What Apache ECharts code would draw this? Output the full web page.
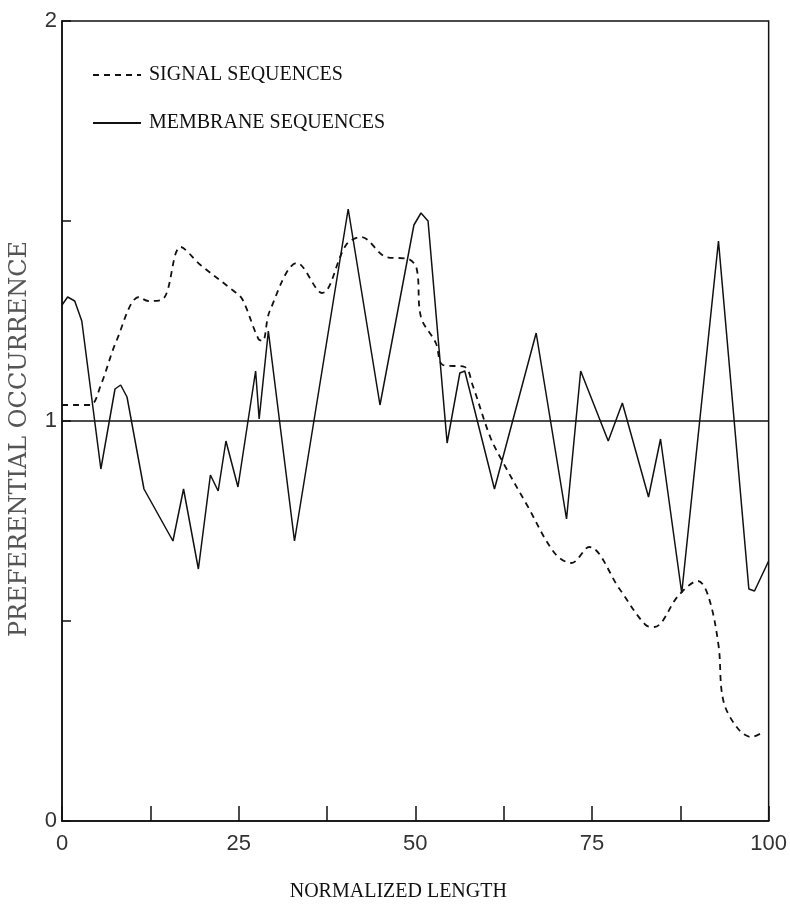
<!DOCTYPE html>
<html>
<head>
<meta charset="utf-8">
<script src="https://cdn.jsdelivr.net/npm/echarts@6/dist/echarts.min.js"></script>
<style>html,body{margin:0;padding:0;background:#fff;overflow:hidden}#c{width:790px;height:913px}</style>
</head>
<body>
<div id="c"></div>
<script>
// Normalized length (x) and preferential occurrence (y)
var signalX = [0, 2, 4, 5.5, 7.7, 10.9, 12.2, 14.3, 16.8, 19.6, 24.3, 25.5, 27.8, 28.4, 29.4, 33.3, 36.8, 40.2, 42.3, 45.9, 49, 50.2, 50.8, 52.9, 53.9, 57, 58.1, 60.6, 62.3, 65.8, 69.7, 72.1, 74.6, 78.9, 82.6, 83.8, 87.3, 90, 91.5, 92.9, 93.6, 95.7, 97.6, 99];
var signalY = [1.04, 1.04, 1.04, 1.09, 1.2, 1.31, 1.30, 1.305, 1.435, 1.39, 1.325, 1.305, 1.205, 1.2, 1.275, 1.395, 1.32, 1.44, 1.46, 1.41, 1.405, 1.38, 1.26, 1.195, 1.14, 1.135, 1.09, 0.96, 0.9, 0.79, 0.67, 0.645, 0.685, 0.58, 0.49, 0.485, 0.565, 0.6, 0.56, 0.44, 0.3, 0.23, 0.21, 0.22];

var membraneX = [0, 0.8, 1.8, 2.8, 5.5, 7.5, 8.3, 9.2, 11.6, 15.7, 17.2, 19.3, 21, 22.1, 23.2, 24.9, 27.4, 27.9, 29.2, 32.9, 40.5, 45, 49.8, 50.8, 51.8, 54.5, 56.3, 57, 61.2, 67.1, 71.4, 73.4, 77.3, 79.3, 83, 84.7, 87.7, 92.9, 97.2, 98, 100];
var membraneY = [1.29, 1.31, 1.30, 1.25, 0.88, 1.08, 1.09, 1.06, 0.83, 0.70, 0.83, 0.63, 0.865, 0.825, 0.95, 0.835, 1.125, 1.005, 1.225, 0.70, 1.53, 1.04, 1.49, 1.52, 1.50, 0.945, 1.12, 1.125, 0.83, 1.22, 0.755, 1.125, 0.95, 1.045, 0.81, 0.955, 0.57, 1.45, 0.58, 0.575, 0.65];

var xTickLabels = [0, 25, 50, 75, 100];
var yTickLabels = [0, 1, 2];
var referenceLevel = 1;

function pairs(xs, ys) { return xs.map(function (x, i) { return [x, ys[i]]; }); }

var chart = echarts.init(document.getElementById('c'));
chart.setOption({
  animation: false,
  backgroundColor: '#fff',
  grid: { left: 60, right: 15, top: 21, bottom: 92, show: true, borderColor: '#111', borderWidth: 1.5, backgroundColor: 'transparent' },
  legend: {
    orient: 'vertical', left: 87, top: 60, itemWidth: 48, itemHeight: 22, itemGap: 28,
    itemStyle: { opacity: 0 },
    textStyle: { fontFamily: 'Liberation Serif', fontSize: 20, color: '#111', padding: [0, 0, 0, 3] },
    data: ['SIGNAL SEQUENCES', 'MEMBRANE SEQUENCES']
  },
  xAxis: {
    type: 'value', min: 0, max: 100, interval: 12.5,
    name: 'NORMALIZED LENGTH', nameLocation: 'middle', nameGap: 61,
    nameTextStyle: { fontFamily: 'Liberation Serif', fontSize: 20, color: '#111', padding: [0, 34, 0, 0] },
    axisLine: { lineStyle: { color: '#111', width: 1.5 } },
    axisTick: { inside: true, length: 15, lineStyle: { color: '#111', width: 1.5 } },
    axisLabel: {
      margin: 12, fontFamily: 'Liberation Sans', fontSize: 22, color: '#333',
      formatter: function (v) { return xTickLabels.indexOf(v) >= 0 ? String(v) : ''; }
    },
    splitLine: { show: false }
  },
  yAxis: {
    type: 'value', min: 0, max: 2, interval: 0.5,
    name: 'PREFERENTIAL OCCURRENCE', nameLocation: 'middle', nameGap: 30,
    nameTextStyle: { fontFamily: 'DejaVu Serif', fontSize: 24, color: '#555', padding: [0, 36, 0, 0] },
    axisLine: { lineStyle: { color: '#111', width: 1.5 } },
    axisTick: { inside: true, length: 9, lineStyle: { color: '#111', width: 1.5 } },
    axisLabel: {
      margin: 5, fontFamily: 'Liberation Sans', fontSize: 22, color: '#333',
      formatter: function (v) { return yTickLabels.indexOf(v) >= 0 ? String(v) : ''; }
    },
    splitLine: { show: false }
  },
  series: [
    {
      name: 'SIGNAL SEQUENCES', type: 'line', data: pairs(signalX, signalY),
      smooth: 0.35, symbol: 'none',
      lineStyle: { color: '#111', width: 1.8, type: [6, 5] },
      itemStyle: { color: '#111' }
    },
    {
      name: 'MEMBRANE SEQUENCES', type: 'line', data: pairs(membraneX, membraneY),
      smooth: false, symbol: 'none',
      lineStyle: { color: '#111', width: 1.5 },
      itemStyle: { color: '#111' },
      markLine: {
        silent: true, symbol: 'none', label: { show: false },
        lineStyle: { color: '#111', width: 1.5, type: 'solid' },
        data: [{ yAxis: referenceLevel }]
      }
    }
  ]
});
</script>
</body>
</html>
